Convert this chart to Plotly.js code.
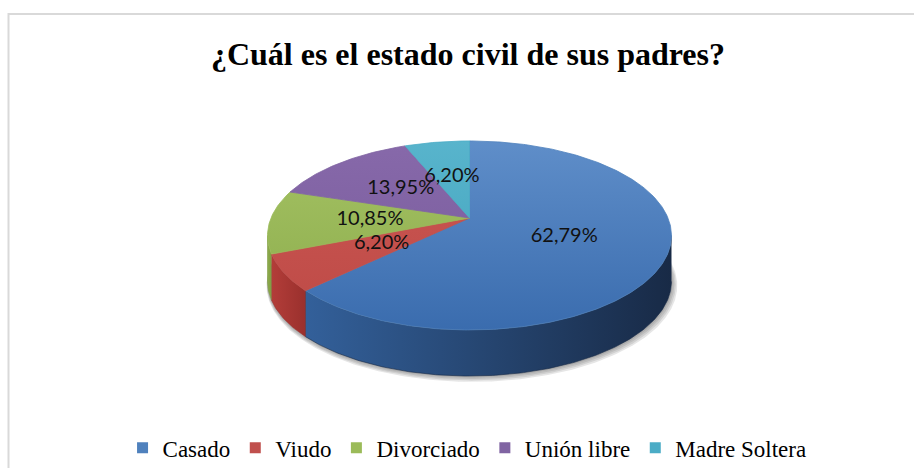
<!DOCTYPE html>
<html>
<head>
<meta charset="utf-8">
<script src="https://cdn.plot.ly/plotly-3.0.1.min.js"></script>
<style>html,body{margin:0;padding:0;background:#fff;}#chart{width:914px;height:468px;}</style>
</head>
<body>
<div id="chart"></div>
<script>
// ---- data ----
const categories = ['Casado', 'Viudo', 'Divorciado', 'Unión libre', 'Madre Soltera'];
const values = [62.79, 6.20, 10.85, 13.95, 6.20];
const chartTitle = '¿Cuál es el estado civil de sus padres?';

// ---- styles ----
const legendColors = ['#4f81bd', '#c0504d', '#9bbb59', '#8064a2', '#4bacc6'];
const topLight = ['#5f8ec9', '#cc5753', '#a5c264', '#8769aa', '#58b4cc'];
const topDark  = ['#3a6cae', '#bd4a46', '#8bac4b', '#775a9a', '#3fa2bc'];
const sideLeft = ['#33609a', '#b33d39', '#8eac4c', '#6c518d', '#3b97b0'];
const sideRight = ['#182a46', '#9a302d', '#7f9c42', '#5b4479', '#2f8299'];
const SERIF = 'Liberation Serif';

// ---- projection of a tilted pie (pixel-unit axes) ----
const CX = 469.5, CY = 218, A = 198.5, B = 91.3, K = 0.185, DEPTH = 46;
function proj(r, deg, dz) {
  const t = deg * Math.PI / 180;
  const u = r * Math.sin(t), v = -r * Math.cos(t);
  const w = 1 - K * v;
  return [CX + A * u / w, CY + B * v / w + (dz || 0)];
}
function arc(r, d1, d2, dz) {
  const n = Math.max(2, Math.ceil(Math.abs(d2 - d1) / 0.75));
  const pts = [];
  for (let i = 0; i <= n; i++) pts.push(proj(r, d1 + (d2 - d1) * i / n, dz));
  return pts;
}
const total = values.reduce((s, v) => s + v, 0);
const starts = [], ends = [];
let acc = 0;
values.forEach(v => { starts.push(acc / total * 360); acc += v; ends.push(acc / total * 360); });

// visible side range (silhouette tangents)
const sideMin = 180 - Math.acos(K) * 180 / Math.PI;
const sideMax = 180 + Math.acos(K) * 180 / Math.PI;

const traces = [];

// soft shadow under the pie
[4, 3, 2, 1].forEach(i => {
  const pts = arc(1 + 0.004 * i, 0, 360, DEPTH + i * 0.9);
  traces.push({
    type: 'scatter', mode: 'lines', x: pts.map(p => p[0] + i * 0.6), y: pts.map(p => p[1]),
    fill: 'toself', fillcolor: 'rgba(60,60,60,0.13)', line: {width: 0},
    hoverinfo: 'skip', showlegend: false
  });
});

// side walls
values.forEach((v, i) => {
  const a1 = Math.max(starts[i], sideMin), a2 = Math.min(ends[i], sideMax);
  if (a2 <= a1) return;
  const pts = arc(1, a1, a2, 0).concat(arc(1, a2, a1, DEPTH));
  const xs = pts.map(p => p[0]);
  traces.push({
    type: 'scatter', mode: 'lines', x: pts.map(p => p[0]), y: pts.map(p => p[1]),
    fill: 'toself', fillcolor: sideLeft[i],
    fillgradient: {type: 'horizontal', start: Math.min(...xs), stop: Math.max(...xs),
      colorscale: [[0, sideLeft[i]], [1, sideRight[i]]]},
    line: {width: 0.6, color: sideRight[i]},
    hoverinfo: 'skip', showlegend: false
  });
});

// top faces
values.forEach((v, i) => {
  const pts = [proj(0, 0, 0)].concat(arc(1, starts[i], ends[i], 0)).concat([proj(0, 0, 0)]);
  traces.push({
    type: 'scatter', mode: 'lines', x: pts.map(p => p[0]), y: pts.map(p => p[1]),
    fill: 'toself', fillcolor: legendColors[i],
    fillgradient: {type: 'vertical', start: proj(1, 0, 0)[1], stop: proj(1, 180, 0)[1],
      colorscale: [[0, topLight[i]], [1, topDark[i]]]},
    line: {width: 0.8, color: legendColors[i]},
    hoverinfo: 'skip', showlegend: false
  });
});

// data labels
const lab = values.map((v, i) => proj(0.5, (starts[i] + ends[i]) / 2, 0));
traces.push({
  type: 'scatter', mode: 'text',
  x: lab.map(p => p[0]), y: lab.map(p => p[1]),
  text: values.map(v => v.toFixed(2).replace('.', ',') + '%'),
  textposition: 'middle center',
  textfont: {family: 'Lato', size: 20, color: '#111'},
  hoverinfo: 'skip', showlegend: false
});

// legend keys
categories.forEach((c, i) => {
  traces.push({
    type: 'scatter', mode: 'markers', x: [null], y: [null], name: c,
    marker: {symbol: 'square', size: 11, color: legendColors[i]},
    hoverinfo: 'skip', showlegend: true
  });
});

const layout = {
  width: 914, height: 468,
  margin: {l: 0, r: 0, t: 0, b: 0, autoexpand: false},
  paper_bgcolor: '#ffffff', plot_bgcolor: 'rgba(0,0,0,0)',
  xaxis: {range: [0, 914], visible: false, fixedrange: true},
  yaxis: {range: [468, 0], visible: false, fixedrange: true},
  title: {
    text: '<b>' + chartTitle + '</b>',
    font: {family: SERIF, size: 32, color: '#000'},
    x: 0.512, xanchor: 'center', y: 0.885, yanchor: 'middle'
  },
  showlegend: true,
  legend: {
    orientation: 'h', x: 0.511, xanchor: 'center', y: 0.043, yanchor: 'middle',
    font: {family: SERIF, size: 23, color: '#000'},
    itemwidth: 30, bgcolor: 'rgba(0,0,0,0)', traceorder: 'normal'
  },
  shapes: [{
    type: 'rect', xref: 'x', yref: 'y', x0: 8.5, x1: 930, y0: 14, y1: 490,
    line: {color: '#d9d9d9', width: 2}, fillcolor: 'rgba(0,0,0,0)', layer: 'below'
  }]
};

Plotly.newPlot('chart', traces, layout, {displayModeBar: false, staticPlot: true});
</script>
</body>
</html>
